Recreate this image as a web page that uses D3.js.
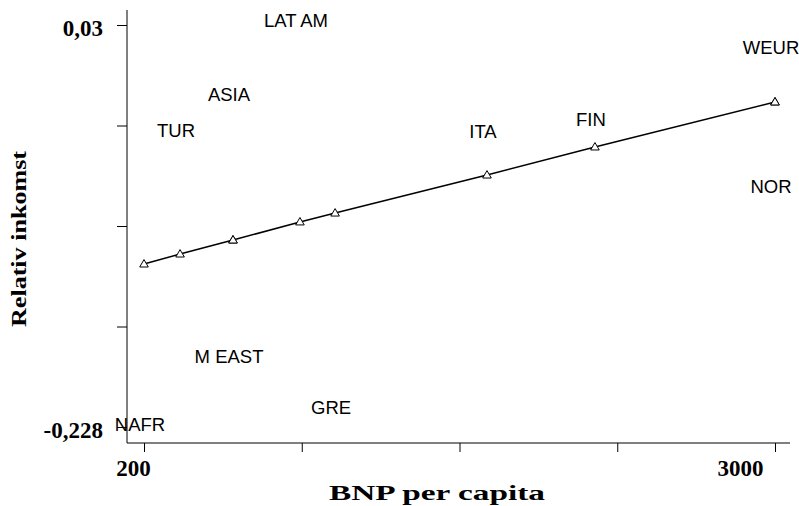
<!doctype html>
<html>
<head>
<meta charset="utf-8"/>
<script src="https://cdn.jsdelivr.net/npm/d3@7/dist/d3.min.js"></script>
<style>
  body { margin: 0; background: #fff; }
  svg { display: block; }
</style>
</head>
<body>
<script>
// data
var countries = ["NAFR", "TUR", "ASIA", "M EAST", "LAT AM", "GRE", "ITA", "FIN", "WEUR", "NOR"];
var bnp       = [200, 360, 595, 595, 892, 1048, 1722, 2201, 3000, 3000];
var inkomst   = [-0.2261, -0.0374, -0.0143, -0.1824, 0.0332, -0.2152, -0.0380, -0.0303, 0.0159, -0.0733];
var fitted    = [-0.1234, -0.1170, -0.1080, -0.1080, -0.0964, -0.0907, -0.0663, -0.0483, -0.0194, -0.0194];
var xTicks = [200, 900, 1600, 2300, 3000];
var yTicks = [-0.228, -0.1635, -0.099, -0.0345, 0.03];
var xTitle = "BNP per capita";
var yTitle = "Relativ inkomst";

var width = 799, height = 506;
var svg = d3.select("body").append("svg").attr("width", width).attr("height", height);

var x = d3.scaleLinear().domain([200, 3000]).range([144, 775]);
var y = d3.scaleLinear().domain([-0.228, 0.03]).range([427, 25]);
var axisX = 127, axisY = 443;

var fmt = function(d) { return String(d).replace(".", ","); };

// y axis
var gy = svg.append("g").attr("transform", "translate(" + axisX + ",0)")
  .call(d3.axisLeft(y).tickValues(yTicks).tickSize(10).tickPadding(14)
    .tickFormat(function(d, i) { return (i == 0 || i == yTicks.length - 1) ? fmt(d) : ""; }));
gy.select(".domain").remove();
gy.selectAll("line").attr("stroke", "#000");
gy.selectAll("text").attr("font-family", "Liberation Serif").attr("font-weight", "bold")
  .attr("font-size", 23).attr("fill", "#000").attr("dy", "0.45em");

// x axis
var gx = svg.append("g").attr("transform", "translate(0," + axisY + ")")
  .call(d3.axisBottom(x).tickValues(xTicks).tickSize(9).tickPadding(8)
    .tickFormat(function(d, i) { return (i == 0 || i == xTicks.length - 1) ? d : ""; }));
gx.select(".domain").remove();
gx.selectAll("line").attr("stroke", "#000");
gx.selectAll("text").attr("font-family", "Liberation Serif").attr("font-weight", "bold")
  .attr("font-size", 23).attr("fill", "#000")
  .attr("dx", function(d, i) { return i == 0 ? -11 : -35; });

// axis lines
svg.append("line").attr("x1", axisX).attr("x2", axisX).attr("y1", 10).attr("y2", axisY)
  .attr("stroke", "#000").attr("stroke-width", 1);
svg.append("line").attr("x1", axisX).attr("x2", 790).attr("y1", axisY).attr("y2", axisY)
  .attr("stroke", "#000").attr("stroke-width", 1);

// regression line
var fit = countries.map(function(c, i) { return { x: bnp[i], y: fitted[i] }; })
  .sort(function(a, b) { return a.x - b.x; });
svg.append("path").datum(fit)
  .attr("fill", "none").attr("stroke", "#000").attr("stroke-width", 1.5)
  .attr("d", d3.line().x(function(d) { return x(d.x); }).y(function(d) { return y(d.y); }));

// triangles
svg.selectAll(".tri").data(fit).enter().append("path")
  .attr("class", "tri")
  .attr("transform", function(d) { return "translate(" + x(d.x) + "," + (y(d.y) + 0.5) + ")"; })
  .attr("d", d3.symbol().type(d3.symbolTriangle).size(32))
  .attr("fill", "#fff").attr("stroke", "#000").attr("stroke-width", 1);

// country labels
svg.selectAll(".lab").data(countries).enter().append("text")
  .attr("class", "lab")
  .attr("x", function(d, i) { return x(bnp[i]) - 4; })
  .attr("y", function(d, i) { return y(inkomst[i]); })
  .attr("dy", "0.36em")
  .attr("text-anchor", "middle")
  .attr("font-family", "Liberation Sans").attr("font-size", 18.5).attr("fill", "#000")
  .text(function(d) { return d; });

// titles
svg.append("text").attr("x", 437).attr("y", 500).attr("text-anchor", "middle")
  .attr("font-family", "Liberation Serif").attr("font-weight", "bold").attr("font-size", 22)
  .attr("textLength", 216).attr("lengthAdjust", "spacingAndGlyphs")
  .text(xTitle);
svg.append("text").attr("transform", "translate(26,239) rotate(-90)").attr("text-anchor", "middle")
  .attr("font-family", "Liberation Serif").attr("font-weight", "bold").attr("font-size", 22)
  .attr("textLength", 176).attr("lengthAdjust", "spacingAndGlyphs")
  .text(yTitle);
</script>
</body>
</html>
